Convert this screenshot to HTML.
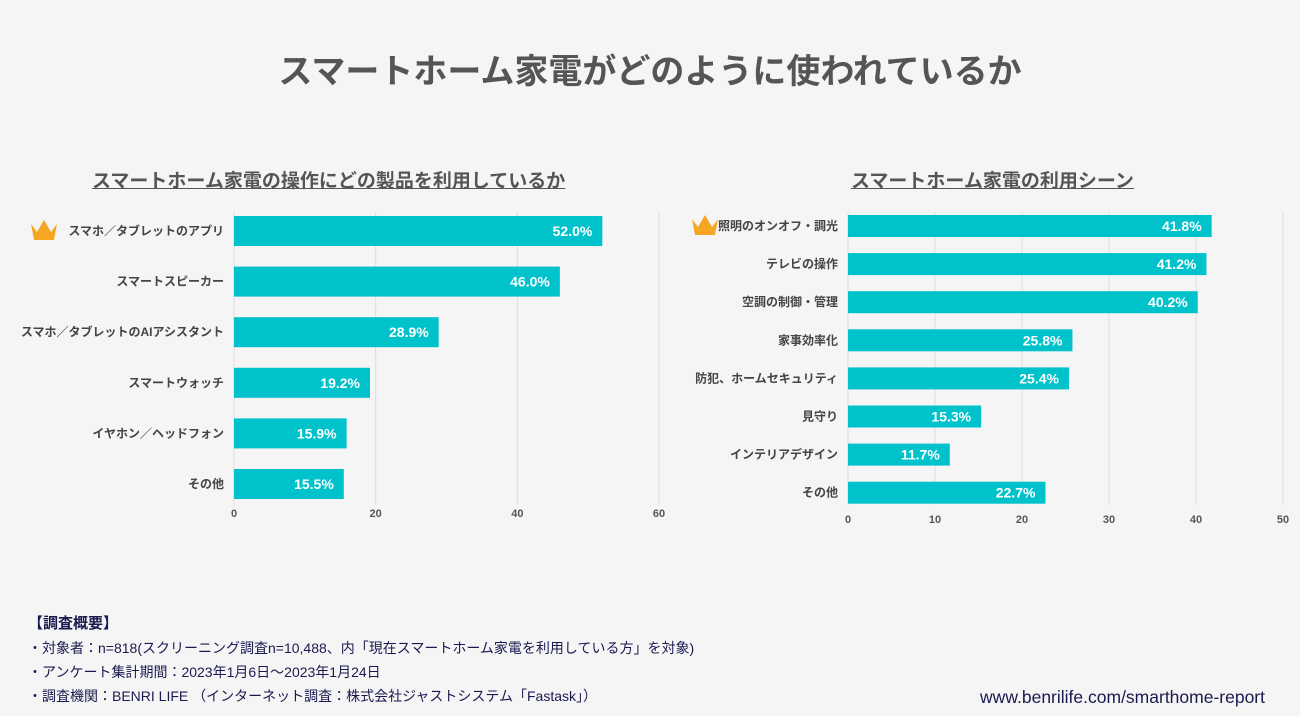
<!DOCTYPE html>
<html><head><meta charset="utf-8">
<style>
body{margin:0;width:1300px;height:716px;background:#f5f5f5;font-family:"Liberation Sans","Noto Sans CJK JP",sans-serif;overflow:hidden;position:relative}
.t{position:absolute;white-space:nowrap}
</style></head><body>
<div class="t" style="left:0;width:1300px;text-align:center;top:44px;font-size:34px;font-weight:bold;color:#555">スマートホーム家電がどのように使われているか</div>
<div class="t" style="left:92px;top:166px;font-size:19px;font-weight:bold;color:#555;text-decoration:underline">スマートホーム家電の操作にどの製品を利用しているか</div>
<div class="t" style="left:851px;top:166px;font-size:19px;font-weight:bold;color:#555;text-decoration:underline">スマートホーム家電の利用シーン</div>
<svg id="chart" width="1300" height="716" style="position:absolute;left:0;top:0"></svg>
<div style="position:absolute;left:28px;top:612px;color:#1a1a50;font-size:14px;line-height:24px">
<div style="font-weight:bold;font-size:15px">【調査概要】</div>
<div>・対象者：n=818(スクリーニング調査n=10,488、内「現在スマートホーム家電を利用している方」を対象)</div>
<div>・アンケート集計期間：2023年1月6日～2023年1月24日</div>
<div>・調査機関：BENRI LIFE （インターネット調査：株式会社ジャストシステム「Fastask」）</div>
</div>
<div class="t" style="right:35px;top:687px;font-size:17.5px;color:#1a1a50">www.benrilife.com/smarthome-report</div>
<script>
const leftCats=["スマホ／タブレットのアプリ","スマートスピーカー","スマホ／タブレットのAIアシスタント","スマートウォッチ","イヤホン／ヘッドフォン","その他"];
const leftVals=[52.0,46.0,28.9,19.2,15.9,15.5];
const leftTicks=[0,20,40,60];
const rightCats=["照明のオンオフ・調光","テレビの操作","空調の制御・管理","家事効率化","防犯、ホームセキュリティ","見守り","インテリアデザイン","その他"];
const rightVals=[41.8,41.2,40.2,25.8,25.4,15.3,11.7,22.7];
const rightTicks=[0,10,20,30,40,50];
const svg=document.getElementById('chart');
const NS="http://www.w3.org/2000/svg";
function mk(tag,attrs){const e=document.createElementNS(NS,tag);for(const k in attrs)e.setAttribute(k,attrs[k]);svg.appendChild(e);return e;}
function crown(x,y){
  const p=mk('path',{d:`M${x} ${y+4} L${x+6} ${y+12} L${x+13} ${y} L${x+20} ${y+12} L${x+26} ${y+4} L${x+23} ${y+20} L${x+3} ${y+20} Z`,fill:'#f5a623'});
  
  
}
function chart(cats,vals,ticks,x0,x1,max,yTop,yBot,first,step,bh,tickY,pre){
  const sx=v=>x0+(x1-x0)*v/max;
  ticks.forEach(t=>{
    const l=mk('line',{x1:sx(t),x2:sx(t),y1:yTop,y2:yBot,stroke:'#ddd','stroke-width':1});
    
    
    const tx=mk('text',{x:sx(t),y:tickY,'text-anchor':'middle','font-size':11,'font-weight':'bold',fill:'#555'});
    tx.textContent=t;
    
    
  });
  cats.forEach((c,i)=>{
    const cy=first+i*step;
    const r=mk('rect',{x:x0,y:cy-bh/2,width:sx(vals[i])-x0,height:bh,fill:'#00c2cb'});
    
    
    const v=mk('text',{x:sx(vals[i])-10,y:cy+5,'text-anchor':'end','font-size':14,'font-weight':'bold',fill:'#fff'});
    v.textContent=vals[i].toFixed(1)+'%';
    
    
    const lb=mk('text',{x:x0-10,y:cy+4,'text-anchor':'end','font-size':12,'font-weight':'bold',fill:'#444'});
    lb.textContent=c;
    
    
  });
}
chart(leftCats,leftVals,leftTicks,234,659,60,212,505,231,50.6,30,517,'left');
chart(rightCats,rightVals,rightTicks,848,1283,50,212,505,226,38.1,22,523,'right');
crown(31,220);crown(692,215);
</script>
</body></html>
